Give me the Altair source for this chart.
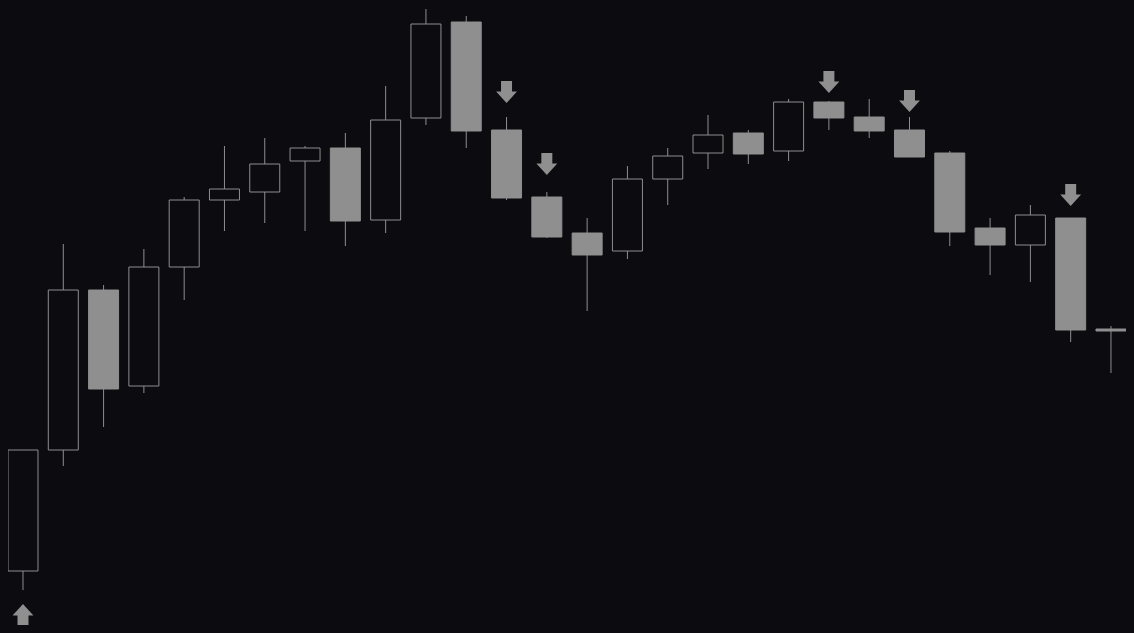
import altair as alt
import pandas as pd

# Candle data (price units)
opens  = [105.4, 117.5, 133.5, 123.9, 135.8, 142.5, 143.3, 146.4, 147.7, 140.5,
          150.7, 160.3, 149.5, 142.8, 139.2, 137.4, 144.6, 147.2, 149.2, 147.4,
          152.3, 150.8, 149.5, 147.2, 139.7, 138.0, 140.7, 129.6]
highs  = [117.5, 138.1, 134.0, 137.6, 142.8, 147.9, 148.7, 147.9, 149.2, 153.9,
          161.6, 160.9, 150.8, 143.3, 140.7, 145.9, 147.7, 151.0, 149.5, 152.6,
          152.4, 152.6, 150.8, 147.4, 140.7, 142.0, 140.7, 129.9]
lows   = [103.5, 115.9, 119.8, 123.2, 132.5, 139.4, 140.2, 139.4, 137.9, 139.2,
          150.0, 147.7, 142.5, 138.7, 131.4, 136.6, 142.0, 145.6, 146.1, 146.4,
          149.5, 148.7, 146.8, 137.9, 135.0, 134.3, 128.3, 125.2]
closes = [117.5, 133.5, 123.6, 135.8, 142.5, 143.6, 146.1, 147.7, 140.4, 150.5,
          160.1, 149.4, 142.7, 138.8, 137.0, 144.6, 146.9, 149.0, 147.1, 152.3,
          150.7, 149.4, 146.8, 139.3, 138.0, 141.0, 129.5, 129.4]

# Signal markers
up_idx = [0]
up_price = [101.0]
down_idx = [12, 13, 20, 22, 26]
down_price = [153.3, 146.1, 154.3, 152.4, 143.0]

BG = "#0b0b10"
GRAY = "#8f8f8f"

df = pd.DataFrame({
    "i": list(range(len(opens))),
    "open": opens, "high": highs, "low": lows, "close": closes,
})
df["fill"] = [GRAY if c < o else BG for o, c in zip(opens, closes)]

up_df = pd.DataFrame({"i": up_idx, "p": up_price})
down_df = pd.DataFrame({"i": down_idx, "p": down_price})

xs = alt.Scale(domain=[-0.372, 27.373], nice=False, zero=False, padding=0)
ys = alt.Scale(domain=[100, 161.7], nice=False, zero=False, padding=0)

X = alt.X("i:Q", scale=xs, axis=None)

wicks = alt.Chart(df).mark_rule(color=GRAY, strokeWidth=1).encode(
    x=X,
    y=alt.Y("low:Q", scale=ys, axis=None),
    y2="high:Q",
)

bodies = alt.Chart(df).mark_bar(size=30, stroke=GRAY, strokeWidth=1).encode(
    x=X,
    y=alt.Y("open:Q", scale=ys, axis=None),
    y2="close:Q",
    fill=alt.Fill("fill:N", scale=None, legend=None),
)

down_path = "M-0.5,-1 L0.5,-1 L0.5,-0.05 L0.95,-0.05 L0,1 L-0.95,-0.05 L-0.5,-0.05 Z"
up_path = "M-0.5,1 L0.5,1 L0.5,0.05 L0.95,0.05 L0,-1 L-0.95,0.05 L-0.5,0.05 Z"

up_marks = alt.Chart(up_df).mark_point(
    shape=up_path, filled=True, size=484, color=GRAY, opacity=1, strokeWidth=0
).encode(x=X, y=alt.Y("p:Q", scale=ys, axis=None))

down_marks = alt.Chart(down_df).mark_point(
    shape=down_path, filled=True, size=484, color=GRAY, opacity=1, strokeWidth=0
).encode(x=X, y=alt.Y("p:Q", scale=ys, axis=None))

chart = alt.layer(wicks, bodies, up_marks, down_marks).properties(
    width=1118, height=617,
    autosize=alt.AutoSizeParams(type="none"),
    padding=0,
    background=BG,
).configure_view(stroke=None)

chart.save("out.html", embed_options={
    "renderer": "svg", "actions": False,
    "defaultStyle": "html, body { background: #0b0b10; }",
})
